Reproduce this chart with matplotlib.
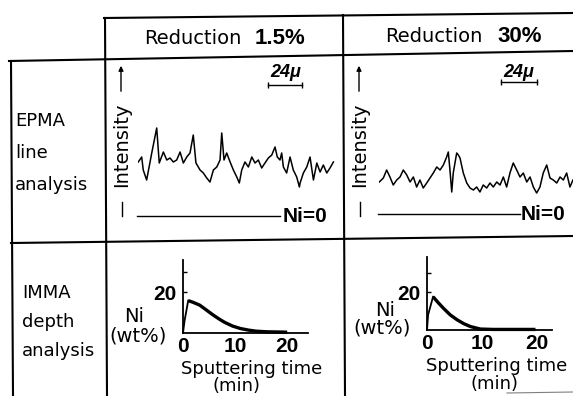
import matplotlib
matplotlib.use("Agg")
import matplotlib.pyplot as plt
from matplotlib.lines import Line2D
from matplotlib.patches import FancyArrowPatch

W, H = 573, 396

# column headers
col_prefix = "Reduction"
col_values = ["1.5%", "30%"]

# row labels
row_epma = ["EPMA", "line", "analysis"]
row_imma = ["IMMA", "depth", "analysis"]

# EPMA line analysis, position (micron) and Ni intensity (arb., Ni=0 -> 0)
epma_pos_15 = [0.2, 2.6, 3.7, 6.1, 9.7, 13.2, 15.0, 17.9, 20.3, 22.6,
               24.9, 27.3, 29.7, 32.0, 34.4, 36.7, 39.0, 40.9, 43.8, 46.1,
               48.5, 50.8, 53.2, 55.6, 57.9, 59.1, 60.7, 62.6, 65.0, 67.3,
               69.7, 71.5, 73.2, 75.5, 77.9, 80.3, 82.6, 84.9, 87.3, 89.6,
               92.0, 94.4, 96.7, 98.3, 100.2, 101.4, 102.6, 104.9, 107.3, 109.6,
               112.0, 113.9, 114.4, 116.7, 119.1, 121.4, 123.8, 126.2, 128.5, 130.8,
               133.2, 135.5, 137.9]
epma_int_15 = [54, 59, 46, 36, 63, 88, 53, 64, 56, 58,
               54, 56, 64, 53, 59, 63, 81, 53, 46, 43,
               38, 34, 46, 49, 56, 83, 56, 63, 54, 46,
               39, 33, 46, 54, 49, 59, 53, 56, 48, 53,
               58, 61, 69, 59, 56, 63, 49, 43, 59, 46,
               39, 29, 33, 43, 49, 59, 36, 53, 44, 51,
               43, 48, 54]

epma_pos_30 = [0, 2.7, 4.9, 7.1, 9.3, 11.6, 13.8, 16.0, 18.3, 20.5,
               22.7, 24.9, 27.1, 29.3, 31.6, 33.8, 36.0, 38.3, 40.5, 42.7,
               44.9, 46.0, 47.1, 48.3, 49.3, 51.6, 52.7, 53.8, 56.0, 58.3,
               60.5, 62.7, 64.9, 67.1, 69.3, 71.6, 73.8, 76.0, 78.3, 80.5,
               82.7, 84.9, 87.1, 89.3, 91.6, 93.8, 96.0, 98.3, 100.5, 102.7,
               104.9, 107.1, 109.3, 111.6, 113.8, 116.0, 118.3, 120.5, 122.7, 124.9,
               127.1, 129.1]
epma_int_30 = [32, 36, 44, 37, 29, 34, 37, 44, 39, 32,
               37, 27, 34, 26, 31, 36, 41, 47, 44, 49,
               57, 62, 44, 22, 41, 61, 59, 56, 41, 31,
               26, 24, 27, 22, 29, 26, 31, 27, 32, 29,
               37, 27, 41, 51, 44, 37, 41, 32, 37, 27,
               21, 27, 41, 49, 36, 34, 31, 37, 34, 41,
               27, 34]

scale_len = 24  # micron

# IMMA depth analysis, sputtering time (min) vs Ni (wt%)
time_15 = [0, 0.3, 1.0, 2.0, 3.2, 4.5, 5.5, 6.3, 7.2, 8.0, 9.5, 11.0, 12.6, 14.0, 16.0, 20.0]
ni_15 = [0, 6, 15.8, 14.9, 13.6, 11.2, 9.3, 7.9, 6.4, 5.2, 3.4, 2.2, 1.4, 0.9, 0.6, 0.4]
time_30 = [0, 0.2, 1.1, 2.0, 3.0, 4.2, 5.5, 6.7, 7.9, 9.7, 12.0, 15.0, 18.0, 19.7]
ni_30 = [0, 8, 17.5, 14.5, 11.4, 8.0, 5.3, 3.3, 1.8, 0.5, 0.3, 0.3, 0.3, 0.3]

fig = plt.figure(figsize=(W / 100, H / 100), dpi=100)

num_font = ["Liberation Sans", "DejaVu Sans"]


def fx(x):
    return x / W


def fy(y):
    return 1 - y / H


def px_text(x, y, s, **kw):
    fig.text(fx(x), fy(y), s, **kw)


def px_line(xs, ys, **kw):
    fig.add_artist(Line2D([fx(x) for x in xs], [fy(y) for y in ys],
                          transform=fig.transFigure, color="black", **kw))


def px_axes(x0, x1, y0, y1):
    return fig.add_axes([fx(x0), fy(y1), (x1 - x0) / W, (y1 - y0) / H])


# ---- table grid ----
px_line([104, 573], [18, 13], lw=1.5)
px_line([9, 573], [61, 51], lw=1.5)
px_line([11, 573], [243, 236], lw=1.5)
px_line([11, 13], [61, 396], lw=1.5)
px_line([105, 107], [18, 396], lw=1.5)
px_line([343, 345], [15, 396], lw=1.5)
px_line([507, 573], [393, 392], lw=0.8, alpha=0.5)

# ---- headers ----
for xr, xn, yy, val in [(144, 305, 38, col_values[0]), (385, 542, 37, col_values[1])]:
    px_text(xr, yy, col_prefix, fontsize=14, ha="left", va="center")
    px_text(xn, yy, val, fontsize=16, fontweight="bold", family=num_font,
            ha="right", va="center")

# ---- row labels ----
for s, yy in zip(row_epma, [121, 153, 185]):
    px_text(15, yy, s, fontsize=13, ha="left", va="center")
for s, yy in zip(row_imma, [293, 322, 351]):
    px_text(22, yy, s, fontsize=13, ha="left", va="center")

# ---- EPMA panels ----
# (pos, intensity, left px, right px, baseline px, px per micron,
#  arrow x, baseline end, label x, scale bar start, bar y, label y)
epma = [
    (epma_pos_15, epma_int_15, 138, 345, 216, 1.417, 121, 100.5, 102.3, 92, 131, 144),
    (epma_pos_30, epma_int_30, 379.3, 573, 214, 1.5, 359, 94.0, 94.5, 81, 132, 142),
]
for pos, inten, x0, x1, ybase, scale, xarr, b_end, lab_x, bar0, bar_y, lab_y in epma:
    ax = px_axes(x0, x1, 60, 240)
    ax.set_xlim(0, (x1 - x0) / scale)
    ax.set_ylim(ybase - 240, ybase - 60)
    ax.axis("off")
    ax.plot(pos, inten, color="black", lw=1.1)
    ax.plot([-1, b_end], [0, 0], color="black", lw=1.0, clip_on=False)
    ax.text(lab_x, 0, "Ni=0", fontsize=15, fontweight="bold", family=num_font,
            ha="left", va="center", clip_on=False)
    ax.plot([bar0, bar0 + scale_len], [bar_y, bar_y], color="black", lw=1.0,
            marker="|", markersize=4)
    ax.text(bar0 + scale_len / 2, lab_y, "24μ", fontsize=13, fontweight="bold",
            style="italic", family=num_font, ha="center", va="center")
    # intensity arrow
    fig.add_artist(FancyArrowPatch(
        (fx(xarr), fy(94)), (fx(xarr), fy(63)), transform=fig.transFigure,
        arrowstyle="-|>", mutation_scale=7, lw=1.0, color="black"))
    px_text(xarr + 1, 145, "Intensity", fontsize=14, rotation=90,
            ha="center", va="center")
    px_line([xarr + 1, xarr + 1], [202, 216], lw=1.0)

# ---- IMMA panels ----
# (time, Ni, box px, x max, px per wt%, label positions)
imma = [
    (time_15, ni_15, 183, 308, 260, 333, 24.0, 2.05,
     (134, 316), (138, 336), (252, 369), (236, 386)),
    (time_30, ni_30, 427, 552, 257, 330, 22.7, 1.9,
     (385, 310), (382, 328), (497, 366), (495, 384)),
]
for t, ni, x0, x1, y0, y1, xmax, yscale, ni_xy, wt_xy, sp_xy, mn_xy in imma:
    ax = px_axes(x0, x1, y0, y1)
    ax.set_xlim(0, xmax)
    ax.set_ylim(0, (y1 - y0) / yscale)
    ax.patch.set_visible(False)
    for side in ["top", "right"]:
        ax.spines[side].set_visible(False)
    for side in ["left", "bottom"]:
        ax.spines[side].set_linewidth(1.3)
    ax.plot(t[:3], ni[:3], color="black", lw=1.3, clip_on=False)
    ax.plot(t[2:], ni[2:], color="black", lw=2.4, solid_capstyle="butt",
            clip_on=False)
    ax.set_xticks([0, 10, 20])
    ax.set_xticklabels(["0", "10", "20"])
    ax.set_yticks([20, 30])
    ax.set_yticklabels(["20", ""])
    ax.tick_params(axis="x", length=0, pad=3)
    ax.tick_params(axis="y", direction="in", length=3, width=1.0, pad=5)
    for lab in ax.get_xticklabels() + ax.get_yticklabels():
        lab.set_fontsize(15)
        lab.set_fontweight("bold")
        lab.set_family(num_font)
    px_text(ni_xy[0], ni_xy[1], "Ni", fontsize=14, ha="center", va="center")
    px_text(wt_xy[0], wt_xy[1], "(wt%)", fontsize=14, ha="center", va="center")
    px_text(sp_xy[0], sp_xy[1], "Sputtering time", fontsize=13,
            ha="center", va="center")
    px_text(mn_xy[0], mn_xy[1], "(min)", fontsize=13, ha="center", va="center")

fig.savefig("out.png", dpi=100)
